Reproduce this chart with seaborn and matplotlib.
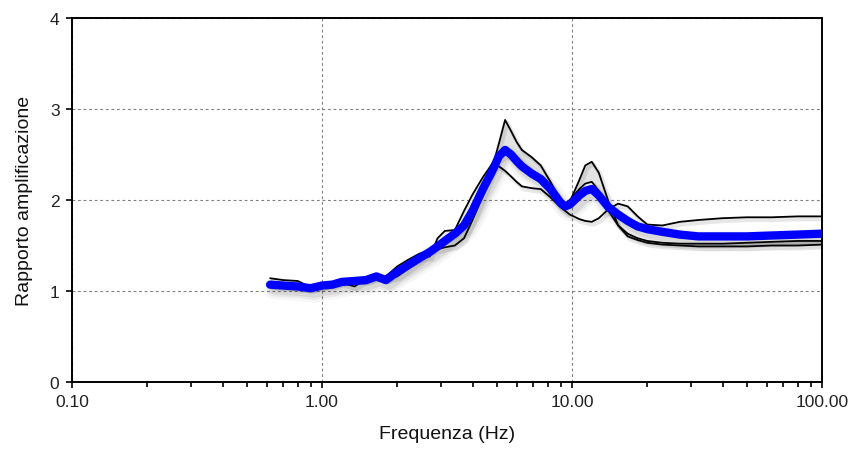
import numpy as np
import pandas as pd
import matplotlib
matplotlib.use("Agg")
import matplotlib.pyplot as plt
import seaborn as sns
import matplotlib.patheffects as pe
from matplotlib.ticker import LogLocator, NullFormatter, FixedLocator, FixedFormatter

# ---------------- data ----------------
freq = [0.62, 0.70, 0.80, 0.90, 1.0, 1.1, 1.2, 1.35, 1.5, 1.65,
        1.8, 2.0, 2.2, 2.45, 2.7, 2.9, 3.1, 3.4, 3.7, 4.0,
        4.4, 4.8, 5.1, 5.4, 5.7, 6.0, 6.3, 6.9, 7.5, 8.2,
        9.0, 9.4, 9.8, 10.7, 11.3, 12.0, 12.8, 14.0, 15.3, 16.7,
        18.3, 20, 23, 27, 32, 40, 50, 63, 80, 100]

curve_a = [1.06, 1.05, 1.04, 1.03, 1.05, 1.08, 1.11, 1.12, 1.11, 1.15,
           1.16, 1.27, 1.34, 1.41, 1.45, 1.50, 1.56, 1.63, 1.72, 1.90,
           2.15, 2.36, 2.62, 2.88, 2.76, 2.64, 2.55, 2.47, 2.38, 2.20,
           2.00, 1.95, 1.98, 2.22, 2.38, 2.42, 2.30, 1.98, 1.72, 1.60,
           1.56, 1.53, 1.51, 1.50, 1.49, 1.49, 1.49, 1.50, 1.50, 1.51]

curve_b = [1.14, 1.12, 1.11, 1.04, 1.06, 1.08, 1.09, 1.05, 1.13, 1.18,
           1.12, 1.21, 1.29, 1.36, 1.38, 1.58, 1.66, 1.67, 1.88, 2.06,
           2.25, 2.40, 2.37, 2.32, 2.26, 2.20, 2.15, 2.13, 2.12, 2.03,
           1.92, 1.88, 1.84, 1.79, 1.77, 1.76, 1.80, 1.90, 1.96, 1.93,
           1.82, 1.73, 1.72, 1.76, 1.78, 1.80, 1.81, 1.81, 1.82, 1.82]

curve_c = [1.07, 1.06, 1.04, 1.02, 1.06, 1.06, 1.10, 1.12, 1.12, 1.15,
           1.13, 1.16, 1.24, 1.33, 1.44, 1.46, 1.48, 1.50, 1.58, 1.78,
           2.05, 2.30, 2.45, 2.50, 2.48, 2.45, 2.40, 2.30, 2.22, 2.12,
           1.99, 1.96, 2.00, 2.12, 2.18, 2.20, 2.10, 1.88, 1.72, 1.63,
           1.58, 1.55, 1.53, 1.52, 1.52, 1.52, 1.53, 1.54, 1.55, 1.55]

mean_curve = [1.07, 1.06, 1.05, 1.03, 1.06, 1.07, 1.10, 1.11, 1.12, 1.16,
              1.12, 1.21, 1.28, 1.36, 1.43, 1.49, 1.55, 1.63, 1.72, 1.88,
              2.12, 2.32, 2.48, 2.55, 2.50, 2.43, 2.37, 2.29, 2.23, 2.12,
              1.97, 1.93, 1.95, 2.05, 2.10, 2.12, 2.05, 1.92, 1.84, 1.77,
              1.71, 1.68, 1.65, 1.62, 1.60, 1.60, 1.60, 1.61, 1.62, 1.63]

x_ticks = [0.1, 1, 10, 100]
x_tick_labels = ["0.10", "1.00", "10.00", "100.00"]
y_ticks = [0, 1, 2, 3, 4]

# ---------------- figure ----------------
sns.set_theme(style="white")
plt.rcParams["font.family"] = ["Liberation Sans", "DejaVu Sans"]

fig = plt.figure(figsize=(8.52, 4.52), dpi=100)
ax = fig.add_axes([72 / 852, 69 / 452, 750 / 852, 364 / 452])

long_df = pd.DataFrame({
    "freq": freq * 3,
    "val": curve_a + curve_b + curve_c,
    "curve": ["A"] * len(freq) + ["B"] * len(freq) + ["C"] * len(freq),
})
mean_df = pd.DataFrame({"freq": freq, "val": mean_curve})

ax.fill_between(freq, np.minimum(curve_a, curve_c), np.maximum(curve_a, curve_c),
                color="#e3e3e3", linewidth=0, zorder=1)

shadow_thin = [pe.SimpleLineShadow(offset=(1.5, -2.0), shadow_color="k", alpha=0.10, linewidth=3),
               pe.Normal()]
sns.lineplot(data=long_df, x="freq", y="val", hue="curve", units="curve",
             estimator=None, sort=False, palette=["black"] * 3, legend=False,
             linewidth=1.3, ax=ax, zorder=3, path_effects=shadow_thin,
             solid_joinstyle="round")

shadow_thick = [pe.SimpleLineShadow(offset=(2.5, -3.5), shadow_color="k", alpha=0.04, linewidth=14),
                pe.SimpleLineShadow(offset=(2.5, -3.5), shadow_color="k", alpha=0.06, linewidth=10),
                pe.SimpleLineShadow(offset=(2.5, -3.5), shadow_color="k", alpha=0.08, linewidth=7),
                pe.Normal()]
sns.lineplot(data=mean_df, x="freq", y="val", estimator=None, sort=False,
             color="#0000ff", linewidth=6, ax=ax, zorder=4,
             path_effects=shadow_thick, solid_capstyle="round",
             solid_joinstyle="round")

ax.set_xscale("log")
ax.set_xlim(0.1, 100)
ax.set_ylim(0, 4)
ax.xaxis.set_major_locator(FixedLocator(x_ticks))
ax.xaxis.set_major_formatter(FixedFormatter(x_tick_labels))
ax.xaxis.set_minor_locator(LogLocator(base=10, subs=np.arange(2, 10)))
ax.xaxis.set_minor_formatter(NullFormatter())
ax.set_yticks(y_ticks)

ax.grid(True, which="major", axis="both", color="#808080",
        linestyle=(0, (2.5, 2.5)), linewidth=0.8, zorder=0)
ax.set_axisbelow(True)

for s in ax.spines.values():
    s.set_visible(True)
    s.set_color("black")
    s.set_linewidth(1.4)

ax.tick_params(axis="both", which="major", direction="out", length=4, width=1.2,
               color="black", labelsize=12.5, labelcolor="#222222", pad=5,
               bottom=True, left=True)
ax.tick_params(axis="x", which="minor", direction="out", length=3.5, width=1.2,
               color="black", bottom=True)

ax.set_xlabel("Frequenza (Hz)", fontsize=14, color="#111111", labelpad=11)
ax.set_ylabel("Rapporto amplificazione", fontsize=14, color="#111111", labelpad=12)

fig.savefig("out.png", dpi=100)
